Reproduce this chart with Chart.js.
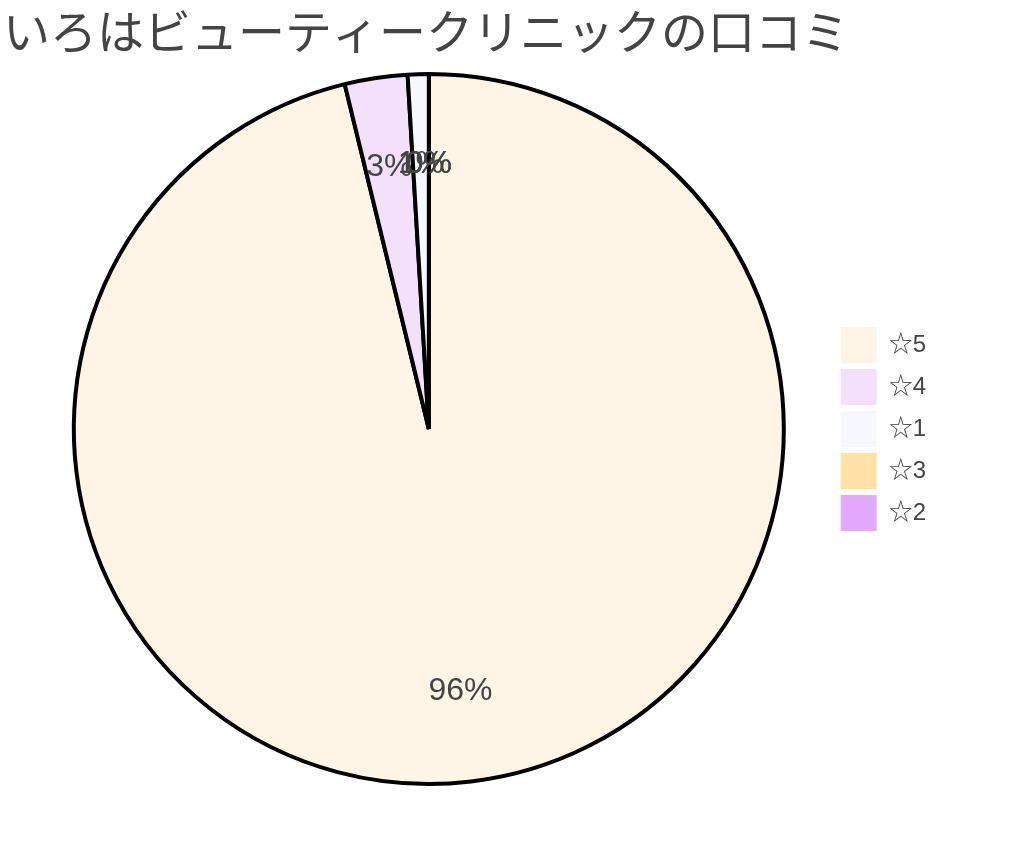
<!DOCTYPE html>
<html>
<head>
  <meta charset="utf-8">
  <title>いろはビューティークリニックの口コミ</title>
  <script src="https://cdn.jsdelivr.net/npm/chart.js"></script>
  <style>
    body { margin: 0; background: #fff; }
  </style>
</head>
<body>
  <canvas id="reviewPie" width="1024" height="861"></canvas>
  <script>
    const titleText = 'いろはビューティークリニックの口コミ';
    const ratingLabels = ['☆5', '☆4', '☆1', '☆3', '☆2'];
    const reviewCounts = [101, 3, 1, 0, 0];
    const sliceColors = ['#fff5e6', '#f3e0fb', '#f7f8ff', '#ffe2a8', '#e3a8ff'];

    // percent text inside every slice
    const percentLabels = {
      id: 'percentLabels',
      afterDatasetsDraw(chart) {
        const ctx = chart.ctx;
        const meta = chart.getDatasetMeta(0);
        const values = chart.data.datasets[0].data;
        const total = values.reduce((a, b) => a + b, 0);
        ctx.save();
        ctx.font = '32px "Liberation Sans", Arial, sans-serif';
        ctx.fillStyle = '#444';
        ctx.textAlign = 'center';
        ctx.textBaseline = 'middle';
        meta.data.forEach(function (arc, i) {
          const p = arc.getProps(['x', 'y', 'startAngle', 'endAngle', 'outerRadius'], true);
          const mid = (p.startAngle + p.endAngle) / 2;
          const r = p.outerRadius * 0.745;
          const pct = Math.round(values[i] / total * 100) + '%';
          ctx.fillText(pct, p.x + Math.cos(mid) * r, p.y + Math.sin(mid) * r);
        });
        ctx.restore();
      }
    };

    // nudge the plot area so the pie sits where the original one does
    const shiftPie = {
      id: 'shiftPie',
      afterLayout(chart) {
        chart.chartArea.left += 20;
        chart.chartArea.width -= 20;
      }
    };

    new Chart(document.getElementById('reviewPie'), {
      type: 'pie',
      data: {
        labels: ratingLabels,
        datasets: [{
          data: reviewCounts,
          backgroundColor: sliceColors,
          borderColor: '#000',
          borderWidth: 4,
          clip: false
        }]
      },
      options: {
        responsive: false,
        animation: false,
        layout: { padding: { left: 3, right: 88, top: 0, bottom: 75 } },
        plugins: {
          title: {
            display: true,
            text: titleText,
            align: 'start',
            color: '#444',
            font: { family: '"Noto Sans CJK JP", sans-serif', size: 47, weight: 'normal' },
            padding: { top: 3, bottom: 12.6 }
          },
          legend: {
            position: 'right',
            fullSize: false,
            labels: {
              boxWidth: 36,
              boxHeight: 36,
              padding: 6,
              color: '#444',
              font: { family: '"Liberation Sans", Arial, "Noto Sans CJK JP", sans-serif', size: 24 },
              generateLabels: function (chart) {
                const items = Chart.overrides.doughnut.plugins.legend.labels.generateLabels(chart);
                items.forEach(function (it) {
                  it.lineWidth = 0;
                  it.strokeStyle = 'rgba(0,0,0,0)';
                });
                return items;
              }
            }
          },
          tooltip: { enabled: false }
        }
      },
      plugins: [percentLabels, shiftPie]
    });
  </script>
</body>
</html>
